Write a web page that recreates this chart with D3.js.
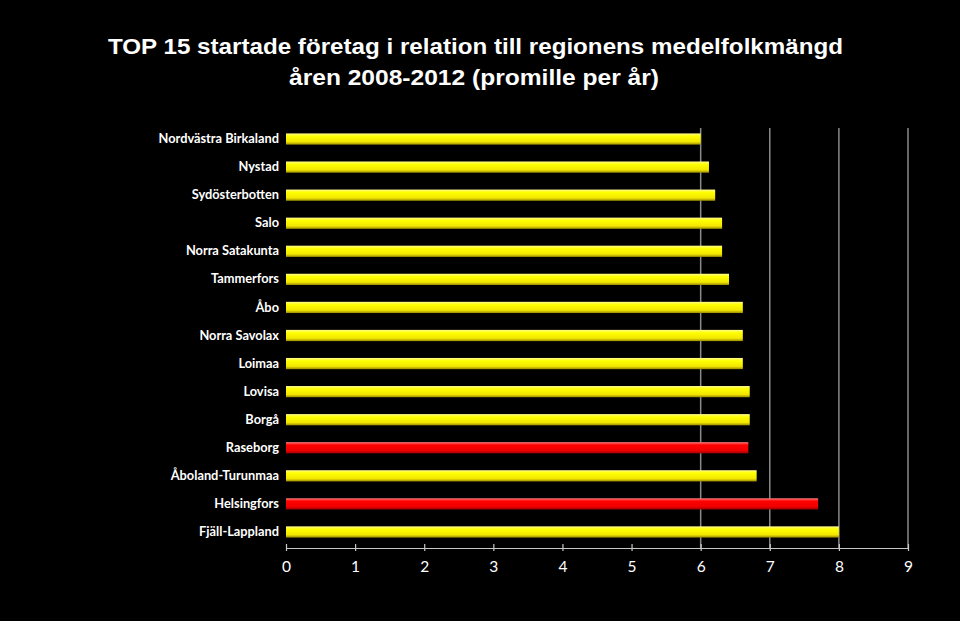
<!DOCTYPE html>
<html><head><meta charset="utf-8">
<script src="https://cdn.jsdelivr.net/npm/d3@7"></script>
<style>html,body{margin:0;padding:0;background:#000;}svg{display:block;}</style>
</head><body>
<svg id="chart" width="960" height="621"></svg>
<script>
const categories = ["Nordvästra Birkaland","Nystad","Sydösterbotten","Salo","Norra Satakunta","Tammerfors","Åbo","Norra Savolax","Loimaa","Lovisa","Borgå","Raseborg","Åboland-Turunmaa","Helsingfors","Fjäll-Lappland"];
const values = [6.0, 6.12, 6.21, 6.31, 6.31, 6.41, 6.61, 6.61, 6.61, 6.71, 6.71, 6.69, 6.81, 7.7, 8.0];
const highlighted = ["Raseborg","Helsingfors"];
const xTicks = [0,1,2,3,4,5,6,7,8,9];
const gridTicks = [6,7,8,9];
const titleLines = ["TOP 15 startade företag i relation till regionens medelfolkmängd","åren 2008-2012 (promille per år)"];

const svg = d3.select("#chart");
svg.append("rect").attr("width",960).attr("height",621).attr("fill","#000");

const defs = svg.append("defs");
function grad(id, light, main, mid, dark){
  const g = defs.append("linearGradient").attr("id",id).attr("x1",0).attr("y1",0).attr("x2",0).attr("y2",1);
  g.append("stop").attr("offset","0%").attr("stop-color",light);
  g.append("stop").attr("offset","25%").attr("stop-color",main);
  g.append("stop").attr("offset","75%").attr("stop-color",mid);
  g.append("stop").attr("offset","100%").attr("stop-color",dark);
}
grad("gy","#fffa90","#ffff00","#f2e600","#9a8a00");
grad("gr","#ff8080","#ff0000","#ee0000","#990000");

const x = d3.scaleLinear().domain([0,9]).range([286,908]);
const y = d3.scaleBand().domain(categories).range([125,546]).paddingInner(0.6).paddingOuter(0.3);
const axisY = 548;

// title
const titleWidths = [735, 370];
svg.append("g").selectAll("text").data(titleLines).join("text")
  .attr("x",(d,i)=>i===0?475.5:474).attr("y",(d,i)=>54+i*31)
  .attr("text-anchor","middle")
  .attr("fill","#fff")
  .attr("font-family","'Liberation Sans', Arial, sans-serif")
  .attr("font-weight","bold")
  .attr("font-size",22.5)
  .attr("textLength",(d,i)=>titleWidths[i])
  .attr("lengthAdjust","spacingAndGlyphs")
  .text(d=>d);

// gridlines
svg.append("g").selectAll("line").data(gridTicks).join("line")
  .attr("x1",d=>x(d)).attr("x2",d=>x(d))
  .attr("y1",128).attr("y2",axisY)
  .attr("stroke","#8a8a8a").attr("stroke-width",1.5);

// bars
const bars = svg.append("g");
bars.selectAll("rect").data(categories).join("rect")
  .attr("x",x(0)).attr("y",d=>y(d))
  .attr("width",(d,i)=>x(values[i])-x(0))
  .attr("height",y.bandwidth())
  .attr("fill",d=>highlighted.includes(d)?"url(#gr)":"url(#gy)");

// x axis
const xAxis = d3.axisBottom(x).tickValues(xTicks).tickSize(0).tickPadding(13).tickFormat(d3.format("d"));
const gx = svg.append("g").attr("transform",`translate(0,${axisY})`).call(xAxis);
gx.select(".domain").attr("stroke","#c8c8c8").attr("stroke-width",1.2);
gx.selectAll(".tick line").remove();
gx.selectAll(".tick").append("line").attr("y1",-4).attr("y2",3).attr("stroke","#c8c8c8").attr("stroke-width",1.2);
gx.selectAll(".tick text").attr("fill","#fff").attr("font-size",15.5)
  .attr("font-family","'Lato', 'Open Sans', sans-serif").attr("font-weight",400);

// y labels
const yAxis = d3.axisLeft(y).tickSize(0).tickPadding(7);
const gy = svg.append("g").attr("transform",`translate(${x(0)},0)`).call(yAxis);
gy.select(".domain").remove();
gy.selectAll(".tick text").attr("fill","#fff").attr("font-size",12.8)
  .attr("font-family","'Lato', 'Open Sans', sans-serif").attr("font-weight",700);
</script>
</body></html>
